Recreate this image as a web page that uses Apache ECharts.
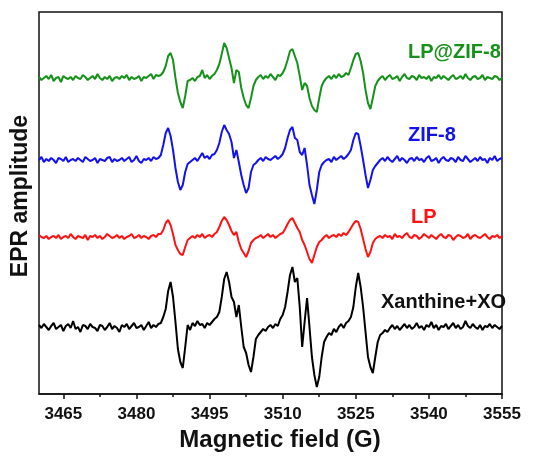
<!DOCTYPE html>
<html>
<head>
<meta charset="utf-8">
<script src="https://cdn.jsdelivr.net/npm/echarts@6/dist/echarts.min.js"></script>
<style>html,body{margin:0;padding:0;background:#fff;}#c{width:534px;height:456px;}</style>
</head>
<body>
<div id="c"></div>
<script>
// Field sampling grid (G): 3460 .. 3555, step 0.5
const fieldStart = 3460;
const fieldStep = 0.5;
const majorTicks = [3465, 3480, 3495, 3510, 3525, 3540, 3555];
const minorTicks = [3472.5, 3487.5, 3502.5, 3517.5, 3532.5, 3547.5];
const seriesNames = ['LP@ZIF-8', 'ZIF-8', 'LP', 'Xanthine+XO'];

// EPR amplitudes (arbitrary units), one value per field sample
const ampLPZIF8 = [
  1,-2,0,2,-1,3,-3,0,1,-4, 2,0,-1,1,-2,2,0,-1,3,1, -2,0,2,-1,4,0,-2,1,-1,2, -3,0,1,-1,2,0,3,-2,1,-1, 0,2,-3,1,0,2,4,-1,3,2,
  3,6,12,22,25,18,0,-15,-24,-30,-18,-3,-2,
  0,-3,1,2,8,0,3,-1,2,4,8,
  14,24,35,30,20,10,-5,8,6,-10,-20,-27,-30,-20,-8,-2,1,
  3,-1,2,0,4,1,-2,3,2,5,
  10,18,27,29,22,15,2,-12,-5,-8,-20,-28,-32,-34,-20,-8,-3,0,
  2,-1,3,0,4,1,2,5,3,
  10,18,24,25,17,5,-12,-25,-31,-20,-8,-3,0,
  2,-2,1,3,-1,0,2,-3,1,4, 0,-1,2,1,-2,3,0,1,-1,2, -3,1,0,3,-1,2,0,-2,1,3, -1,0,2,-1,4,0,-2,1,2,-1, 0,3,-2,1,0,-1,2,1,-2,0
];
const ampZIF8 = [
  0,3,-2,1,-1,2,0,-3,2,1, -1,3,-2,0,1,-1,2,0,-2,3, 1,-1,0,2,-3,1,0,-1,2,3, -2,1,-1,0,2,-1,1,3,-2,0, 4,-1,-3,1,0,2,-1,3,1,2,
  5,15,27,32,24,10,-8,-22,-30,-25,-12,-4,-2,
  0,2,-1,3,7,2,4,1,5,6,10,
  17,28,35,30,26,18,2,10,-2,-15,-25,-33,-28,-12,-5,-3,0,
  2,-1,3,1,0,2,4,1,3,6,
  12,22,30,33,22,20,8,5,12,-5,-25,-35,-44,-30,-12,-5,-2,0,
  1,-2,3,0,2,4,1,3,6,
  10,20,27,26,14,0,-15,-28,-20,-10,-6,-3,0,
  2,-1,3,0,-2,1,4,-1,2,0, -3,1,2,-1,3,0,1,-2,2,4, -1,0,2,-3,1,3,0,-1,2,1, -2,3,0,-1,4,1,-2,0,2,-1, 3,0,1,-3,2,0,4,-1,1,2
];
const ampLP = [
  2,0,-1,1,-2,0,1,-1,2,-2, 0,1,-1,3,0,-2,1,0,-1,2, -3,1,0,2,-1,1,-2,0,3,1, -1,0,2,-1,1,-2,0,1,3,-1, 0,2,-1,1,0,-2,1,2,0,3,
  3,7,14,17,12,3,-8,-13,-17,-18,-10,-3,-1,
  1,-1,2,0,3,-1,1,2,0,3,5,
  10,16,20,17,12,6,2,5,-5,-12,-16,-20,-14,-6,-3,-1,0,
  2,-1,1,3,0,2,-1,1,3,4,
  8,13,17,19,14,9,5,-3,-8,-15,-22,-26,-18,-10,-5,-3,0,2,
  -1,1,2,0,3,1,4,2,5,
  9,13,16,15,8,-2,-12,-20,-15,-6,-2,0,1,
  -1,2,0,1,-2,3,0,1,-1,2, 4,0,-1,2,1,-2,0,3,1,-1, 2,0,-2,1,3,0,-1,2,1,-3, 0,2,1,-1,0,3,-2,1,2,0, -1,1,3,0,-2,1,0,2,-1,1
];
const ampXanthineXO = [
  2,-1,3,0,-3,1,4,-2,0,2, -4,1,3,-1,6,-2,0,-5,2,1, -2,3,0,-1,-4,2,1,-3,0,4, -2,1,-1,-5,2,0,3,-2,1,4, -1,0,2,-3,1,5,-1,2,0,3,
  4,10,18,36,45,30,5,-22,-35,-41,-20,2,-3,
  4,1,6,2,3,-1,4,2,5,8,10,
  15,30,48,55,45,30,25,10,22,0,-20,-26,-38,-45,-30,-12,-8,
  -5,-2,-4,0,2,-1,3,1,
  8,12,20,35,52,60,45,49,20,-20,5,29,0,-30,-48,-60,-50,-30,-15,-10,
  -6,-8,-2,-5,0,3,-1,4,6,
  10,20,40,54,40,20,-5,-30,-40,-46,-30,-15,-8,
  -6,-3,-5,-1,2,-2,1,-3,0,3, -1,2,-2,0,4,-1,1,-3,2,0, 5,-1,2,-3,1,0,3,-2,1,4, -1,2,-2,0,6,1,-1,3,0,-2, 2,-3,1,0,3,-1,2,0,-2,1
];

const amplitudes = [ampLPZIF8, ampZIF8, ampLP, ampXanthineXO];
const offsets = [316, 234, 157, 67];   // vertical stacking of the spectra
const colors = ['#16921a', '#1212ee', '#ff1212', '#000000'];
const labelPos = [[408, 52], [408, 135], [411, 217], [381, 302]];

const FONT = '"Liberation Sans", Arial, sans-serif';
const chart = echarts.init(document.getElementById('c'), null, {renderer: 'canvas'});

const series = amplitudes.map((arr, k) => ({
  name: seriesNames[k],
  type: 'line',
  xAxisIndex: 0,
  showSymbol: false,
  symbol: 'none',
  data: arr.map((v, i) => [fieldStart + i * fieldStep, v + offsets[k]]),
  lineStyle: {color: colors[k], width: 2},
  z: 3
}));

const graphics = seriesNames.map((n, k) => ({
  type: 'text',
  x: labelPos[k][0], y: labelPos[k][1],
  style: {text: n, fill: colors[k] === '#000000' ? '#111' : colors[k], font: 'bold 20px ' + FONT, textAlign: 'left', textVerticalAlign: 'middle'},
  z: 10
}));
graphics.push({
  type: 'text', x: 280, y: 440,
  style: {text: 'Magnetic field (G)', fill: '#111', font: 'bold 24px ' + FONT, textAlign: 'center', textVerticalAlign: 'middle'}
});
graphics.push({
  type: 'text', x: 21, y: 196, rotation: Math.PI / 2,
  style: {text: 'EPR amplitude', fill: '#111', font: 'bold 23px ' + FONT, textAlign: 'center', textVerticalAlign: 'middle'}
});

chart.setOption({
  animation: false,
  backgroundColor: '#fff',
  grid: {left: 39, right: 32, top: 12, bottom: 62, show: true, borderColor: '#111', borderWidth: 1.5, containLabel: false},
  xAxis: [{
    type: 'value', min: 3460, max: 3555, position: 'bottom',
    axisLine: {show: true, onZero: false, lineStyle: {color: '#111', width: 1.5}},
    axisTick: {show: true, inside: false, length: 5, customValues: majorTicks, lineStyle: {color: '#111', width: 1.5}},
    axisLabel: {show: true, customValues: majorTicks, margin: 12, color: '#111', fontSize: 17, fontWeight: 'bold', fontFamily: FONT, formatter: v => String(v)},
    splitLine: {show: false}
  }, {
    type: 'value', min: 3460, max: 3555, position: 'bottom',
    axisLine: {show: false},
    axisTick: {show: true, inside: false, length: 3, customValues: minorTicks, lineStyle: {color: '#111', width: 1.5}},
    axisLabel: {show: false},
    splitLine: {show: false}
  }],
  yAxis: {
    type: 'value', min: 0, max: 382,
    axisLine: {show: false}, axisTick: {show: false}, axisLabel: {show: false}, splitLine: {show: false}
  },
  series: series,
  graphic: graphics
});
</script>
</body>
</html>
